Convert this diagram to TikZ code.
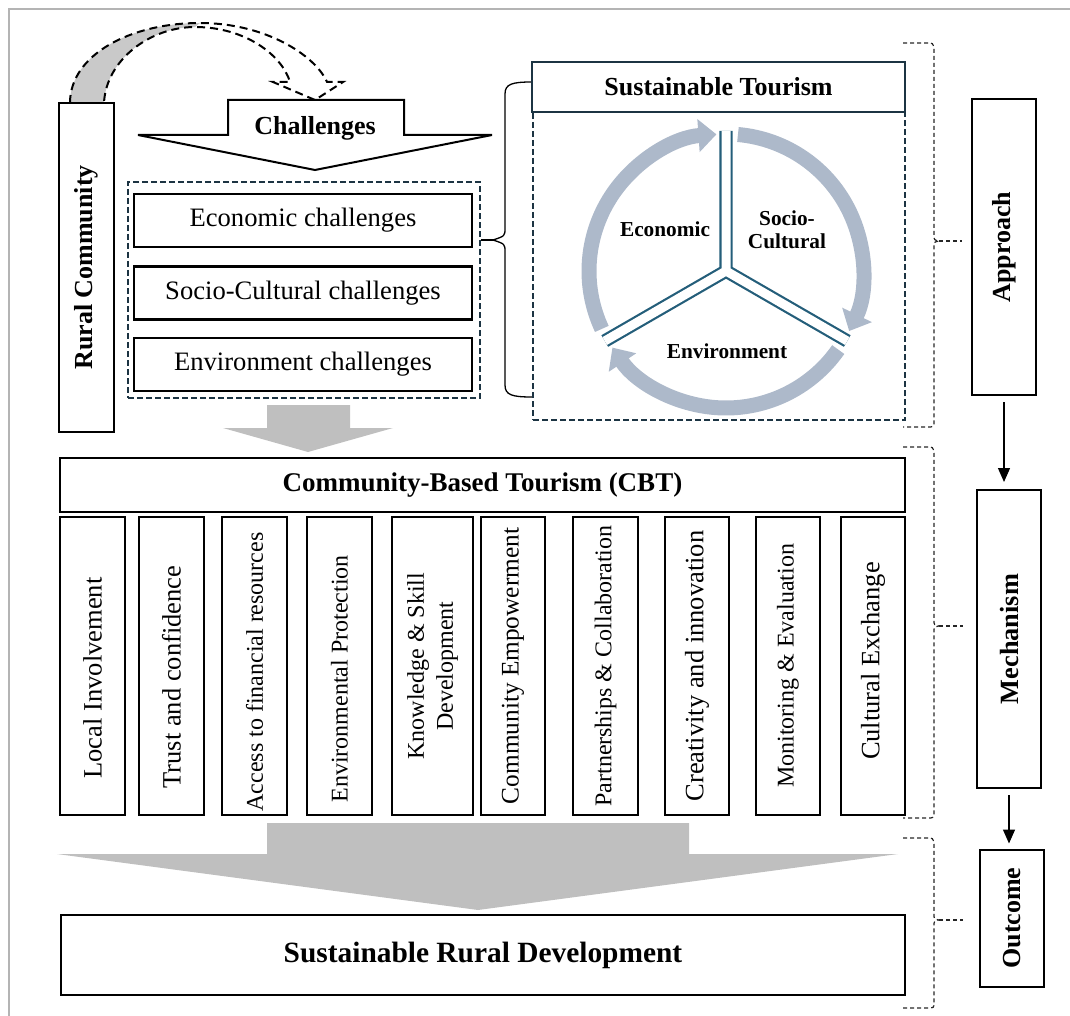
\documentclass[tikz,border=0pt]{standalone}
\usepackage{fontspec}
\setmainfont{Liberation Serif}
\usetikzlibrary{arrows.meta,positioning}
\definecolor{navya}{HTML}{1C3443}
\definecolor{spokea}{HTML}{245E7A}
\definecolor{ringa}{HTML}{ADB9CA}
\definecolor{graya}{HTML}{BFBFBF}
\definecolor{grayb}{HTML}{C9C9C9}
\definecolor{framea}{HTML}{B4B4B4}
\newcommand{\fsz}[2]{\fontsize{#1}{#2}\selectfont}
\tikzset{box/.style={draw=black,line width=2pt,fill=white,inner sep=0pt,align=center},cbtbox/.style={box,minimum height=298pt},sidebox/.style={box,minimum width=64pt},dashbox/.style={draw=navya,line width=1.8pt,dash pattern=on 6pt off 3pt},bracedash/.style={draw=black!85,line width=1.2pt,dash pattern=on 4pt off 3pt},ring/.style={draw=ringa,line width=15pt,-{Triangle[length=18pt,width=32pt]}},spoke/.style={draw=spokea,line width=2.2pt,double=white,double distance=9pt},flow/.style={-{Triangle[length=14pt,width=12pt]},line width=1.3pt},pillar/.style={font=\fsz{21.3}{23}\bfseries,align=center}}

\begin{document}
\begin{tikzpicture}[x=1pt,y=-1pt]
\useasboundingbox (0,0) rectangle (1070,1016);
\draw[framea,line width=1.2pt] (9,1016) -- (9,9) -- (1070,9);
% curved arrow out of the community box
\fill[grayb] (70,103) .. controls (70,55) and (130,23) .. (200,23) -- (195,27) .. controls (150,27) and (106,60) .. (104,103) -- cycle;
\draw[line width=2pt,dash pattern=on 8pt off 5pt] (70,103) .. controls (70,55) and (130,23) .. (200,23) .. controls (265,23) and (315,55) .. (327,82) -- (343,82) -- (315,100) -- (273,82) -- (290,82) .. controls (282,55) and (245,27) .. (195,27) .. controls (150,27) and (106,60) .. (104,103);
\node[box,minimum width=55pt,minimum height=329pt] (rural) at (86.5,267.5) {\rotatebox{90}{\fsz{26}{30}\bfseries Rural Community}};
% challenges
\draw[line width=2pt,fill=white] (138,135) -- (228,135) -- (228,100) -- (404,100) -- (404,135) -- (492,135) -- (315,170) -- cycle;
\node[font=\fsz{26}{30}\bfseries] (chal) at (315,128) {Challenges};
\node[dashbox,minimum width=352pt,minimum height=216pt] (chall) at (304,290) {};
\node[box,line width=2.4pt,minimum width=338pt,minimum height=53pt] (econ) at (303,220.5) {\fsz{26.6}{30}Economic challenges};
\node[box,line width=2.4pt,minimum width=338pt,minimum height=53pt,below=17pt of econ] (soc) {\fsz{26.6}{30}Socio-Cultural challenges};
\node[box,line width=2.4pt,minimum width=338pt,minimum height=53pt,below=16pt of soc] (envc) {\fsz{26.6}{30}Environment challenges};
% brace to sustainable tourism
\coordinate (sttip) at (493,240);
\draw[line width=1.3pt] (chall.east |- sttip) -- (sttip);
\draw[line width=1.3pt] (532,82) .. controls (512,82) and (505,84) .. (505,94) -- (505,228) .. controls (505,236) .. (sttip) .. controls (505,244) .. (505,252) -- (505,385) .. controls (505,395) and (512,397) .. (532,397);
% sustainable tourism
\node[dashbox,minimum width=372pt,minimum height=308pt] (stbox) at (719,266) {};
\node[box,draw=navya,line width=2.4pt,minimum width=373pt,minimum height=50pt] (st) at (718.5,87) {\fsz{26}{30}\bfseries Sustainable Tourism};
\coordinate (ctr) at (726,271);
\draw[ring] ([shift={(155:137)}]ctr) arc[start angle=155,end angle=266,radius=137];
\draw[ring] ([shift={(275:137)}]ctr) arc[start angle=275,end angle=386,radius=137];
\draw[ring] ([shift={(35:137)}]ctr) arc[start angle=35,end angle=146,radius=137];
\draw[spoke] (ctr) -- ++(270:140) (ctr) -- ++(30:140) (ctr) -- ++(150:140);
\node[pillar] (eco) at (665,229) {Economic};
\node[pillar] (socu) at (787,230) {Socio-\\Cultural};
\node[pillar] (envi) at (727,351) {Environment};
% arrow down to CBT
\fill[graya] (267,405) -- (350,405) -- (350,428) -- (393,428) -- (308,452) -- (223,428) -- (267,428) -- cycle;
\node[box,line width=1.3pt,minimum width=845pt,minimum height=54pt] (cbt) at (482.5,485) {\fsz{27}{30}\bfseries Community-Based Tourism (CBT)};
\node[cbtbox,minimum width=65pt] (loc) at (92.5,666) {\rotatebox{90}{\fsz{26.5}{30}Local Involvement\hspace*{24pt}}};
\node[cbtbox,minimum width=65pt] (trust) at (171.5,666) {\rotatebox{90}{\fsz{26.5}{30}Trust and confidence\hspace*{22pt}}};
\node[cbtbox,minimum width=65pt] (fin) at (254.5,666) {\rotatebox{90}{\fsz{24}{29}Access to financial resources\hspace*{12pt}}};
\node[cbtbox,minimum width=65pt] (prot) at (339.5,666) {\rotatebox{90}{\fsz{24}{29}Environmental Protection\hspace*{26pt}}};
\node[cbtbox,minimum width=81pt] (know) at (432.5,666) {\rotatebox{90}{\fsz{24}{29}\begin{tabular}{@{}c@{}}Knowledge \& Skill\\Development\end{tabular}}};
\node[cbtbox,minimum width=64pt] (emp) at (513,666) {\rotatebox{90}{\fsz{25.3}{30}Community Empowerment}};
\node[cbtbox,minimum width=65pt] (part) at (605.5,666) {\rotatebox{90}{\fsz{24}{29}Partnerships \& Collaboration}};
\node[cbtbox,minimum width=64pt] (crea) at (697,666) {\rotatebox{90}{\fsz{26.5}{30}Creativity and innovation}};
\node[cbtbox,minimum width=64pt] (moni) at (788,666) {\rotatebox{90}{\fsz{24}{29}Monitoring \& Evaluation}};
\node[cbtbox,minimum width=64pt] (cult) at (873,666) {\rotatebox{90}{\fsz{26.5}{30}\hspace*{10pt}Cultural Exchange}};
% arrow down to the outcome
\fill[graya] (267,823) -- (689,823) -- (689,854) -- (898,854) -- (478,910) -- (57,854) -- (267,854) -- cycle;
\node[box,line width=2.6pt,minimum width=844pt,minimum height=80pt] (srd) at (483,955) {\fsz{29.4}{32}\bfseries Sustainable Rural Development};
% right column
\node[sidebox,minimum height=296pt] (appr) at (1004,247) {\rotatebox{90}{\fsz{26}{30}\bfseries Approach}};
\node[sidebox,minimum height=298pt] (mech) at (1009,639) {\rotatebox{90}{\fsz{26.3}{30}\bfseries Mechanism}};
\node[sidebox,minimum height=137pt] (outc) at (1012,918) {\rotatebox{90}{\fsz{26}{30}\bfseries Outcome}};
\draw[flow,shorten <=6pt,shorten >=7pt] (appr.south) -- (appr.south |- mech.north);
\draw[flow,shorten <=6pt,shorten >=5pt] (mech.south) -- (mech.south |- outc.north);
\coordinate (tipa) at (939,241);
\coordinate (tipm) at (939,626);
\coordinate (tipo) at (939,920);
\draw[bracedash] (903,43) -- (927,43) .. controls (933,43) .. (934,49) -- (934,235) .. controls (934,240) .. (tipa) .. controls (934,242) .. (934,247) -- (934,421) .. controls (934,427) .. (927,427) -- (903,427);
\draw[bracedash] (903,447) -- (927,447) .. controls (933,447) .. (934,453) -- (934,620) .. controls (934,625) .. (tipm) .. controls (934,627) .. (934,632) -- (934,812) .. controls (934,818) .. (927,818) -- (903,818);
\draw[bracedash] (903,838) -- (927,838) .. controls (933,838) .. (934,844) -- (934,914) .. controls (934,919) .. (tipo) .. controls (934,921) .. (934,926) -- (934,1002) .. controls (934,1008) .. (927,1008) -- (903,1008);
\draw[bracedash,shorten >=9pt] (tipa) -- (tipa -| appr.west);
\draw[bracedash,shorten >=13pt] (tipm) -- (tipm -| mech.west);
\draw[bracedash,shorten >=16pt] (tipo) -- (tipo -| outc.west);
\end{tikzpicture}
\end{document}
